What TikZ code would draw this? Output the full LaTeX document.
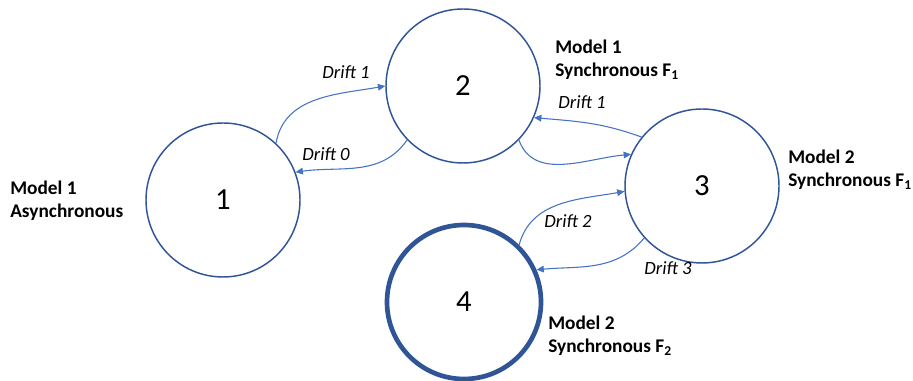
\documentclass[tikz,border=0pt]{standalone}
\usepackage{fontspec}
\setmainfont{Carlito}
\usetikzlibrary{arrows.meta}
\definecolor{ringblue}{HTML}{2F5597}
\definecolor{flowblue}{HTML}{4472C4}

\begin{document}
\begin{tikzpicture}[x=0.75pt, y=0.75pt,
  state/.style={circle, draw=ringblue, line width=1.1pt, minimum size=115.5pt, inner sep=0pt, font=\fontsize{23}{23}\selectfont},
  drift/.style={draw=flowblue, line width=0.8pt, -{Triangle[length=5.5pt, width=5pt]}},
  drifttext/.style={font=\fontsize{14}{16}\selectfont\itshape, inner sep=0pt},
  modeltext/.style={font=\fontsize{14.5}{17.5}\selectfont\bfseries, align=left, anchor=west, inner sep=0pt}]
\useasboundingbox (0,0) rectangle (913,381);
\node[state] (s1) at (223,181) {1};
\node[state] (s2) at (463,295) {2};
\node[state] (s3) at (702,195) {3};
\node[state, line width=3.5pt] (s4) at (464,79) {4};
\node[modeltext] (m1) at (10,180) {Model 1\\Asynchronous};
\node[modeltext] (m2) at (555,321) {Model 1\\Synchronous F\textsubscript{1}};
\node[modeltext] (m3) at (788,211) {Model 2\\Synchronous F\textsubscript{1}};
\node[modeltext] (m4) at (548,45) {Model 2\\Synchronous F\textsubscript{2}};
\draw[drift] (s1.47) to[out=80, in=190] (s2.180);
\draw[drift] (s2.224) to[out=235, in=8] (s1.21);
\draw[drift] (s3.141) to[out=160, in=355] (s2.336);
\draw[drift] (s2.316) to[out=290, in=185] (s3.156);
\draw[drift] (s4.46) to[out=75, in=190] (s3.184);
\draw[drift] (s3.222) to[out=230, in=5] (s4.24);
\node[drifttext] (d1) at (346,309) {Drift 1};
\node[drifttext] (d0) at (326,227) {Drift 0};
\node[drifttext] (d1b) at (582,279) {Drift 1};
\node[drifttext] (d2) at (568,160) {Drift 2};
\node[drifttext] (d3) at (668,113) {Drift 3};
\end{tikzpicture}
\end{document}
